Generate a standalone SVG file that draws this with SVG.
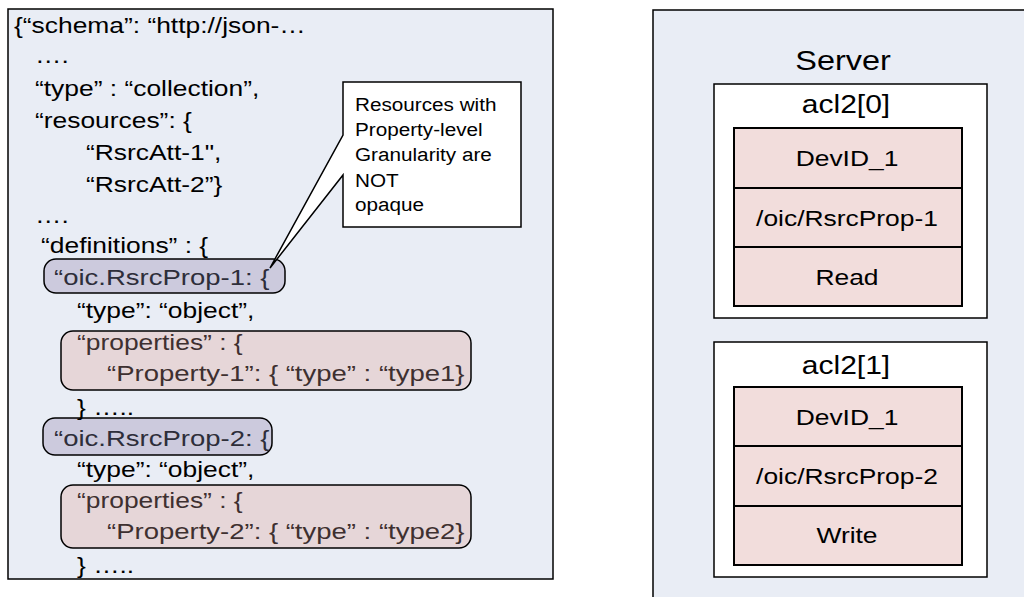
<svg xmlns="http://www.w3.org/2000/svg" width="1024" height="597" viewBox="0 0 1024 597">
<style>
text{font-family:"Liberation Sans",Arial,sans-serif;fill:#000}
.j{font-size:22px}
.lav{fill:#CCCADD;stroke:#000;stroke-width:1.5}
.pnk{fill:#E6D6D8;stroke:#000;stroke-width:1.5}
.tl{fill:#2E2E3A}
.tp{fill:#3E3030}
.panel{fill:#E9EDF5;stroke:#000;stroke-width:1.5}
.acl{fill:#fff;stroke:#000;stroke-width:1.5}
.cell{fill:#F2DDDC;stroke:#000;stroke-width:2}
.c{font-size:22px;text-anchor:middle}
.h{font-size:25px;text-anchor:middle}
.cal{font-size:19px}
</style>
<g id="schema-panel">
<rect class="panel" x="8" y="9" width="545" height="570"/>
<rect class="lav" x="44" y="259" width="241" height="34" rx="12"/>
<rect class="pnk" x="61" y="331" width="410" height="59" rx="12"/>
<rect class="lav" x="43" y="418" width="229" height="37" rx="12"/>
<rect class="pnk" x="61" y="485" width="410" height="63" rx="12"/>
<text class="j" transform="translate(14 33) scale(1.2 1)">{“schema”: “http://json-…</text>
<text class="j" transform="translate(35 63) scale(1.2 1)">….</text>
<text class="j" transform="translate(35 96) scale(1.2 1)">“type” : “collection”,</text>
<text class="j" transform="translate(35 128) scale(1.2 1)">“resources”: {</text>
<text class="j" transform="translate(86 160) scale(1.2 1)">“RsrcAtt-1",</text>
<text class="j" transform="translate(86 192) scale(1.2 1)">“RsrcAtt-2”}</text>
<text class="j" transform="translate(35 223) scale(1.2 1)">….</text>
<text class="j" transform="translate(41 253) scale(1.2 1)">“definitions” : {</text>
<text class="j tl" transform="translate(54 285) scale(1.25 1)">“oic.RsrcProp-1: {</text>
<text class="j" transform="translate(77 318) scale(1.2 1)">“type”: “object”,</text>
<text class="j tp" transform="translate(77 350) scale(1.2 1)">“properties” : {</text>
<text class="j tp" transform="translate(107 381) scale(1.25 1)">“Property-1”: { “type” : “type1}</text>
<text class="j" transform="translate(77 415) scale(1.2 1)">} …..</text>
<text class="j tl" transform="translate(54 446) scale(1.25 1)">“oic.RsrcProp-2: {</text>
<text class="j" transform="translate(77 477) scale(1.2 1)">“type”: “object”,</text>
<text class="j tp" transform="translate(77 508) scale(1.2 1)">“properties” : {</text>
<text class="j tp" transform="translate(107 539) scale(1.25 1)">“Property-2”: { “type” : “type2}</text>
<text class="j" transform="translate(77 573) scale(1.2 1)">} …..</text>
</g>
<g id="callout">
<path d="M343 82H521V227H343V175L270 268L343 135Z" fill="#fff" stroke="#000" stroke-width="1.5" stroke-linejoin="miter"/>
<text class="cal" transform="translate(355 111) scale(1.09 1)">Resources with</text>
<text class="cal" transform="translate(355 136) scale(1.09 1)">Property-level</text>
<text class="cal" transform="translate(355 161) scale(1.09 1)">Granularity are</text>
<text class="cal" transform="translate(355 187) scale(1.09 1)">NOT</text>
<text class="cal" transform="translate(355 211) scale(1.09 1)">opaque</text>
</g>
<g id="server">
<rect class="panel" x="653" y="10" width="390" height="600"/>
<text font-size="27" text-anchor="middle" transform="translate(843 70) scale(1.2 1)">Server</text>
</g>
<g id="acl2-0">
<rect class="acl" x="714" y="84" width="273" height="234"/>
<text class="h" transform="translate(846 113) scale(1.2 1)">acl2[0]</text>
<rect class="cell" x="734" y="128" width="228" height="60"/>
<rect class="cell" x="734" y="188" width="228" height="59"/>
<rect class="cell" x="734" y="247" width="228" height="59"/>
<text class="c" transform="translate(847 166) scale(1.2 1)">DevID_1</text>
<text class="c" transform="translate(847 226) scale(1.2 1)">/oic/RsrcProp-1</text>
<text class="c" transform="translate(847 285) scale(1.2 1)">Read</text>
</g>
<g id="acl2-1">
<rect class="acl" x="714" y="342" width="273" height="235"/>
<text class="h" transform="translate(846 374) scale(1.2 1)">acl2[1]</text>
<rect class="cell" x="734" y="387" width="228" height="59"/>
<rect class="cell" x="734" y="446" width="228" height="60"/>
<rect class="cell" x="734" y="506" width="228" height="59"/>
<text class="c" transform="translate(847 425) scale(1.2 1)">DevID_1</text>
<text class="c" transform="translate(847 484) scale(1.2 1)">/oic/RsrcProp-2</text>
<text class="c" transform="translate(847 543) scale(1.2 1)">Write</text>
</g>
<g id="connectors"></g>
</svg>
